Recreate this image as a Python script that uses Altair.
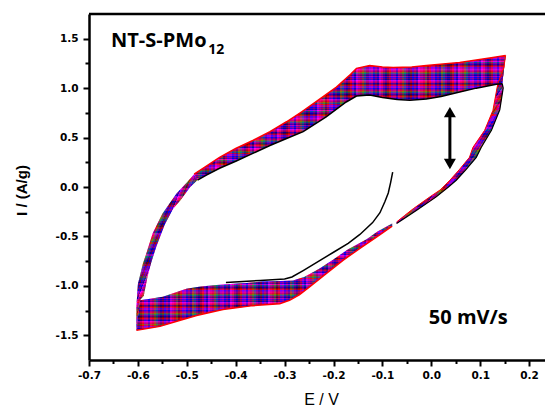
import altair as alt
import pandas as pd

# ---------------- values ----------------
# upper (anodic) branch : first cycle (inner, black) and last cycle (outer, red)
UP_FIRST_E = [-0.478, -0.46, -0.433, -0.40, -0.365, -0.33, -0.296, -0.262, -0.215, -0.174, -0.153, -0.126,
              -0.10, -0.07, -0.044, -0.01, 0.02, 0.058, 0.092, 0.133, 0.145]
UP_FIRST_I = [0.07, 0.12, 0.19, 0.26, 0.34, 0.42, 0.49, 0.56, 0.71, 0.86, 0.92, 0.93,
              0.905, 0.885, 0.877, 0.89, 0.915, 0.96, 1.0, 1.04, 1.045]
UP_LAST_E = [-0.485, -0.46, -0.433, -0.40, -0.365, -0.33, -0.296, -0.265, -0.242, -0.194, -0.165, -0.153,
             -0.126, -0.10, -0.078, -0.04, -0.01, 0.058, 0.126, 0.152]
UP_LAST_I = [0.13, 0.21, 0.30, 0.39, 0.47, 0.56, 0.66, 0.76, 0.84, 1.01, 1.14, 1.20,
             1.23, 1.215, 1.21, 1.215, 1.23, 1.26, 1.31, 1.33]

# right (return) branch
RT_FIRST_E = [0.145, 0.147, 0.14, 0.123, 0.102, 0.092, 0.07, 0.051, 0.035, 0.01, -0.03, -0.05, -0.071]
RT_FIRST_I = [1.045, 1.0, 0.78, 0.573, 0.40, 0.30, 0.17, 0.068, 0.0, -0.10, -0.235, -0.30, -0.37]
RT_LAST_E = [0.152, 0.148, 0.136, 0.126, 0.109, 0.085, 0.078, 0.058, 0.038, 0.018, -0.003, -0.037, -0.055, -0.071]
RT_LAST_I = [1.33, 1.2, 1.045, 0.775, 0.573, 0.40, 0.30, 0.18, 0.068, -0.03, -0.10, -0.22, -0.29, -0.354]

# lower (cathodic) branch
LO_FIRST_E = [-0.08, -0.11, -0.133, -0.17, -0.201, -0.23, -0.26, -0.283, -0.31, -0.345, -0.378, -0.42,
              -0.446, -0.475, -0.501, -0.525, -0.549, -0.575, -0.596]
LO_FIRST_I = [-0.37, -0.45, -0.53, -0.63, -0.735, -0.83, -0.91, -0.945, -0.95, -0.955, -0.97, -0.985,
              -0.994, -1.01, -1.03, -1.07, -1.11, -1.13, -1.146]
LO_LAST_E = [-0.08, -0.11, -0.146, -0.18, -0.215, -0.249, -0.27, -0.29, -0.31, -0.365, -0.426, -0.48,
             -0.515, -0.555, -0.603]
LO_LAST_I = [-0.395, -0.50, -0.62, -0.74, -0.876, -1.01, -1.09, -1.146, -1.18, -1.20, -1.24, -1.30,
             -1.35, -1.41, -1.45]

# left (rising) branch
LF_FIRST_E = [-0.596, -0.588, -0.58, -0.572, -0.562, -0.545, -0.528, -0.513, -0.493, -0.478]
LF_FIRST_I = [-1.146, -1.10, -0.90, -0.75, -0.60, -0.38, -0.22, -0.135, 0.0, 0.07]
LF_LAST_E = [-0.603, -0.603, -0.60, -0.59, -0.582, -0.57, -0.55, -0.521, -0.499, -0.485]
LF_LAST_I = [-1.45, -1.20, -0.98, -0.78, -0.66, -0.47, -0.27, -0.067, 0.05, 0.13]

# initial sweep (black) from open-circuit potential
INIT_E = [-0.079, -0.083, -0.088, -0.095, -0.105, -0.12, -0.146, -0.17, -0.20, -0.23, -0.262, -0.285,
          -0.30, -0.35, -0.42]
INIT_I = [0.15, 0.05, -0.06, -0.15, -0.26, -0.36, -0.48, -0.57, -0.66, -0.75, -0.845, -0.91,
          -0.93, -0.945, -0.965]

# double arrow
ARROW_E = [0.038, 0.038]
ARROW_I = [0.23, 0.757]
HEAD_E = [0.038, 0.038]
HEAD_I = [0.757, 0.233]
HEAD_SHAPE = ["triangle-up", "triangle-down"]

# texts
LABELS = ["NT-S-PMo", "50 mV/s"]
LABEL_E = [-0.655, -0.005]
LABEL_I = [1.416, -1.381]
SUB_LABEL = ["12"]
SUB_E = [-0.456]
SUB_I = [1.35]

X_MAJOR = [-0.7, -0.6, -0.5, -0.4, -0.3, -0.2, -0.1, 0.0, 0.1, 0.2]
X_MINOR = [-0.65, -0.55, -0.45, -0.35, -0.25, -0.15, -0.05, 0.05, 0.15]
Y_MAJOR = [-1.5, -1.0, -0.5, 0.0, 0.5, 1.0, 1.5]
Y_MINOR = [-1.25, -0.75, -0.25, 0.25, 0.75, 1.25]

X_DOMAIN = [-0.7, 0.2325]
Y_DOMAIN = [-1.75, 1.75]

PALETTE = ["#ff0000", "#0000ff", "#ff00ff", "#808000", "#000080", "#8000ff", "#800080",
           "#ff0080", "#008080", "#800000", "#c000c0", "#0000c0", "#e00040", "#600090"]

# ---------------- build tables ----------------
def polygon(seg, fe, fi, le, li):
    rows = []
    k = 0
    for e, i in zip(fe, fi):
        rows.append({"seg": seg, "k": k, "E": e, "I": i}); k += 1
    for e, i in zip(reversed(le), reversed(li)):
        rows.append({"seg": seg, "k": k, "E": e, "I": i}); k += 1
    return pd.DataFrame(rows)

def path(name, es, is_):
    return pd.DataFrame({"name": name, "k": range(len(es)), "E": es, "I": is_})

def stripes(n, direction, shift=0):
    stops = []
    for j in range(n):
        c = PALETTE[(j * 5 + shift + (j // 7)) % len(PALETTE)]
        stops.append(alt.GradientStop(offset=j / n, color=c))
        stops.append(alt.GradientStop(offset=(j + 1) / n, color=c))
    x2, y2 = direction
    return alt.LinearGradient(gradient="linear", stops=stops, x1=0, y1=0, x2=x2, y2=y2)

xs = alt.Scale(domain=X_DOMAIN, nice=False, zero=False)
ys = alt.Scale(domain=Y_DOMAIN, nice=False, zero=False)

def X(axis=None):
    return alt.X("E:Q", scale=xs, axis=axis)

def Y(axis=None):
    return alt.Y("I:Q", scale=ys, axis=axis)

layers = []
# (name, edges..., stripes along main dir, main dir, stripes cross dir, cross dir)
segs = [
    ("up", UP_FIRST_E, UP_FIRST_I, UP_LAST_E, UP_LAST_I, 125, (0, 1), 150, (1, 0)),
    ("rt", RT_FIRST_E, RT_FIRST_I, RT_LAST_E, RT_LAST_I, 150, (1, 1), 80, (0, 1)),
    ("lo", LO_FIRST_E, LO_FIRST_I, LO_LAST_E, LO_LAST_I, 110, (0, 1), 128, (1, 0)),
    ("lf", LF_FIRST_E, LF_FIRST_I, LF_LAST_E, LF_LAST_I, 110, (1, 1), 80, (0, 1)),
]
for n, (seg, fe, fi, le, li, n1, d1, n2, d2) in enumerate(segs):
    poly = polygon(seg, fe, fi, le, li)
    layers.append(
        alt.Chart(poly).mark_line(fill=stripes(n1, d1, shift=n * 3), strokeOpacity=0, strokeWidth=0)
        .encode(x=X(), y=Y(), order="k:Q")
    )
    layers.append(
        alt.Chart(poly).mark_line(fill=stripes(n2, d2, shift=n * 3 + 7), fillOpacity=0.45,
                                  strokeOpacity=0, strokeWidth=0)
        .encode(x=X(), y=Y(), order="k:Q")
    )

red_df = pd.concat([path("up", UP_LAST_E, UP_LAST_I), path("lo", LO_LAST_E, LO_LAST_I)])
red_rt = path("rt", RT_LAST_E, RT_LAST_I)
black_df = pd.concat([path("up", UP_FIRST_E, UP_FIRST_I), path("init", INIT_E, INIT_I)])
black_rt = path("rt", RT_FIRST_E, RT_FIRST_I)

layers.append(alt.Chart(red_df).mark_line(color="#ff0000", strokeWidth=1.5)
              .encode(x=X(), y=Y(), order="k:Q", detail="name:N"))
layers.append(alt.Chart(red_rt).mark_line(color="#ff0000", strokeWidth=1)
              .encode(x=X(), y=Y(), order="k:Q"))
layers.append(alt.Chart(black_df).mark_line(color="#000000", strokeWidth=1.5)
              .encode(x=X(), y=Y(), order="k:Q", detail="name:N"))
layers.append(alt.Chart(black_rt).mark_line(color="#000000", strokeWidth=1.2)
              .encode(x=X(), y=Y(), order="k:Q"))

# arrow
layers.append(alt.Chart(pd.DataFrame({"E": ARROW_E, "I": ARROW_I})).mark_line(color="black", strokeWidth=3)
              .encode(x=X(), y=Y()))
layers.append(alt.Chart(pd.DataFrame({"E": HEAD_E, "I": HEAD_I, "s": HEAD_SHAPE}))
              .mark_point(filled=True, color="black", size=144, opacity=1)
              .encode(x=X(), y=Y(), shape=alt.Shape("s:N", scale=None, legend=None)))

# texts
layers.append(alt.Chart(pd.DataFrame({"E": LABEL_E, "I": LABEL_I, "t": LABELS}))
              .mark_text(font="Open Sans", fontWeight="bold", fontSize=20, align="left",
                         baseline="alphabetic", color="black")
              .encode(x=X(), y=Y(), text="t:N"))
layers.append(alt.Chart(pd.DataFrame({"E": SUB_E, "I": SUB_I, "t": SUB_LABEL}))
              .mark_text(font="Open Sans", fontWeight="bold", fontSize=14, align="left",
                         baseline="alphabetic", color="black")
              .encode(x=X(), y=Y(), text="t:N"))

# axes (major with labels, minor without)
lab = "(datum.value < 0 ? '-' : '') + format(abs(datum.value), '.1f')"
common = dict(labelFont="DejaVu Sans", labelFontWeight="bold", labelFontSize=10.5, labelColor="black",
              tickColor="black", domainColor="black", grid=False)
ax_x = alt.Axis(values=X_MAJOR, labelExpr=lab, orient="bottom", title="E / V", titleFont="Liberation Sans",
                titleFontSize=16, titleFontWeight="normal", titleColor="black", titleX=232, titleY=44,
                titleBaseline="alphabetic", tickSize=6, tickWidth=2, domainWidth=2.5, labelPadding=4,
                labelFlush=False, labelOverlap=False, **common)
ax_y = alt.Axis(values=Y_MAJOR, labelExpr=lab, orient="left", title="I / (A/g)", titleFont="Liberation Sans",
                titleFontSize=15, titleFontWeight="bold", titleColor="black", titleX=-68, titleY=176,
                titleAngle=270, titleBaseline="middle", titleAlign="center", tickSize=6, tickWidth=2,
                domainWidth=2.5, labelPadding=5, labelFlush=False, labelOverlap=False, **common)
ax_xm = alt.Axis(values=X_MINOR, labels=False, title=None, orient="bottom", domain=False, tickSize=3.5,
                 tickWidth=2, tickColor="black", grid=False)
ax_ym = alt.Axis(values=Y_MINOR, labels=False, title=None, orient="left", domain=False, tickSize=4,
                 tickWidth=2, tickColor="black", grid=False)

anchor = pd.DataFrame({"E": ARROW_E, "I": ARROW_I})
layers.append(alt.Chart(anchor).mark_point(opacity=0).encode(x=X(ax_x), y=Y(ax_y)))
layers.append(alt.Chart(anchor).mark_point(opacity=0).encode(x=X(ax_xm), y=Y(ax_ym)))

# top frame line
layers.append(alt.Chart(pd.DataFrame({"a": [0]})).mark_rule(color="black", strokeWidth=2.5)
              .encode(x=alt.value(0), x2=alt.value(456), y=alt.value(0)))

chart = alt.layer(*layers).resolve_axis(x="independent", y="independent").properties(
    width=456, height=346,
    autosize=alt.AutoSizeParams(type="none"),
    padding={"left": 89, "top": 14, "right": 0, "bottom": 47},
    background="white",
).configure_view(stroke=None)

chart.save("out.html", embed_options={"renderer": "svg", "actions": False})
